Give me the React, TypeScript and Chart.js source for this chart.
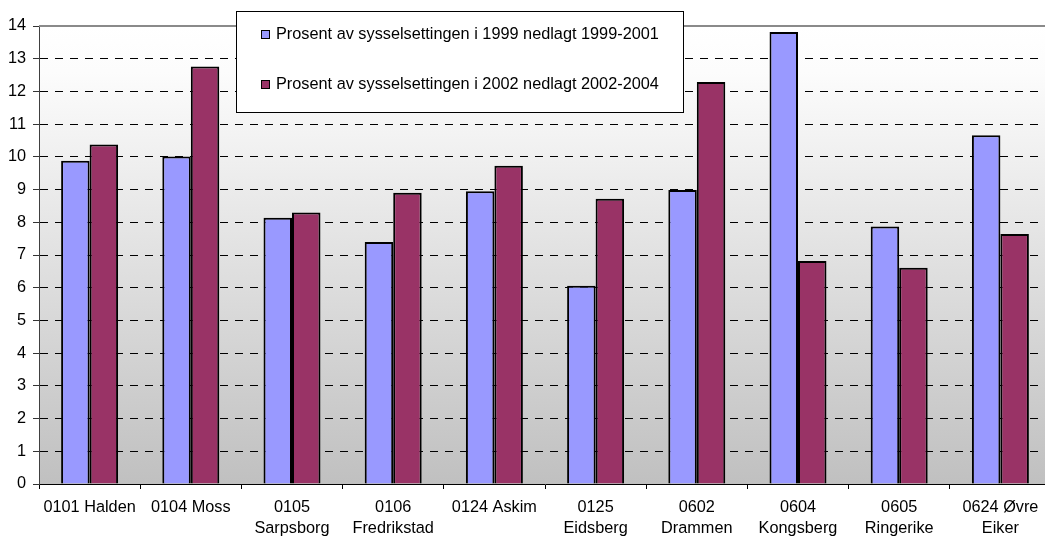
import React, { useEffect, useRef } from 'react';
import { Chart, registerables } from 'chart.js';

Chart.register(...registerables);

const categories: (string | string[])[] = [
  '0101 Halden',
  '0104 Moss',
  ['0105', 'Sarpsborg'],
  ['0106', 'Fredrikstad'],
  '0124 Askim',
  ['0125', 'Eidsberg'],
  ['0602', 'Drammen'],
  ['0604', 'Kongsberg'],
  ['0605', 'Ringerike'],
  ['0624 Øvre', 'Eiker'],
];

const seriesALabel = 'Prosent av sysselsettingen i 1999 nedlagt 1999-2001';
const seriesBLabel = 'Prosent av sysselsettingen i 2002 nedlagt 2002-2004';

const seriesA = [9.88, 10.01, 8.14, 7.4, 8.95, 6.06, 8.99, 13.82, 7.87, 10.66];
const seriesB = [10.38, 12.76, 8.3, 8.9, 9.73, 8.72, 12.29, 6.82, 6.61, 7.64];

const yMin = 0;
const yMax = 14;
const yStep = 1;

const colorA = '#9999FF';
const colorB = '#993366';

const W = 1062;
const H = 560;
const FONT = 'Arial, "Liberation Sans", sans-serif';
const FS = 16.3;

const bgPlugin = {
  id: 'bgGradient',
  beforeDraw(chart: any) {
    const { ctx, chartArea } = chart;
    if (!chartArea) return;
    const g = ctx.createLinearGradient(0, chartArea.top, 0, chartArea.bottom);
    g.addColorStop(0, '#ffffff');
    g.addColorStop(0.1, '#fcfcfc');
    g.addColorStop(1, '#c0c0c0');
    ctx.save();
    ctx.fillStyle = g;
    ctx.fillRect(chartArea.left, chartArea.top, chartArea.right - chartArea.left, chartArea.bottom - chartArea.top);
    ctx.restore();
  },
  afterDraw(chart: any) {
    const { ctx, chartArea } = chart;
    ctx.save();
    // top border of plot area
    ctx.strokeStyle = '#8a8a8a';
    ctx.lineWidth = 2;
    ctx.beginPath();
    ctx.moveTo(chartArea.left, chartArea.top);
    ctx.lineTo(chartArea.right, chartArea.top);
    ctx.stroke();

    // legend box
    const bx = 236.5, by = 11.5, bw = 447, bh = 101;
    ctx.fillStyle = '#ffffff';
    ctx.fillRect(bx, by, bw, bh);
    ctx.strokeStyle = '#000000';
    ctx.lineWidth = 1;
    ctx.strokeRect(bx, by, bw, bh);

    const items = chart.data.datasets;
    const ys = [34, 84];
    ctx.font = `${FS}px ${FONT}`;
    ctx.textBaseline = 'middle';
    ctx.textAlign = 'left';
    items.forEach((ds: any, i: number) => {
      const y = ys[i];
      ctx.fillStyle = ds.backgroundColor;
      ctx.fillRect(261, y - 4, 9, 9);
      ctx.strokeStyle = '#000';
      ctx.lineWidth = 1;
      ctx.strokeRect(261.5, y - 3.5, 8, 8);
      ctx.fillStyle = '#000';
      ctx.fillText(ds.label, 276, y + 1);
    });
    ctx.restore();
  },
};

export default function App() {
  const ref = useRef<HTMLCanvasElement | null>(null);

  useEffect(() => {
    if (!ref.current) return;
    Chart.defaults.font.family = FONT;
    Chart.defaults.font.size = FS;
    Chart.defaults.color = '#000';
    const chart = new Chart(ref.current, {
      type: 'bar',
      data: {
        labels: categories,
        datasets: [
          {
            label: seriesALabel,
            data: seriesA,
            backgroundColor: colorA,
            borderColor: '#000',
            borderWidth: 2,
            categoryPercentage: 0.563,
            barPercentage: 1,
          },
          {
            label: seriesBLabel,
            data: seriesB,
            backgroundColor: colorB,
            borderColor: '#000',
            borderWidth: 2,
            categoryPercentage: 0.563,
            barPercentage: 1,
          },
        ],
      },
      options: {
        animation: false,
        responsive: false,
        devicePixelRatio: 1,
        layout: { padding: { top: 26, left: 0, right: 11, bottom: 0 } },
        plugins: {
          legend: { display: false },
          tooltip: { enabled: false },
        },
        scales: {
          x: {
            grid: {
              display: true,
              drawOnChartArea: false,
              drawTicks: true,
              tickLength: 5,
              tickColor: '#000',
              offset: true,
            },
            border: { display: true, color: '#000', width: 1 },
            ticks: {
              padding: 7.5,
              maxRotation: 0,
              autoSkip: false,
              font: { size: FS, lineHeight: 1.3 },
              color: '#000',
            },
            afterFit(scale: any) {
              scale.height = H - 484;
            },
          },
          y: {
            min: yMin,
            max: yMax,
            ticks: { stepSize: yStep, padding: 7, font: { size: FS }, color: '#000' },
            grid: {
              color: (c: any) =>
                c.tick && (c.tick.value === yMin || c.tick.value === yMax) ? 'rgba(0,0,0,0)' : '#000',
              lineWidth: 1,
              drawTicks: true,
              tickLength: 6,
              tickColor: '#333',
            },
            border: { display: true, color: '#404040', width: 1, dash: [8, 7] },
            afterFit(scale: any) {
              scale.width = 39;
            },
          },
        },
      },
      plugins: [bgPlugin],
    });
    return () => chart.destroy();
  }, []);

  return (
    <div
      style={{
        position: 'fixed',
        left: 0,
        top: 0,
        width: 1045,
        height: 536,
        overflow: 'hidden',
        background: '#fff',
      }}
    >
      <canvas ref={ref} width={W} height={H} style={{ width: W, height: H, display: 'block' }} />
    </div>
  );
}
